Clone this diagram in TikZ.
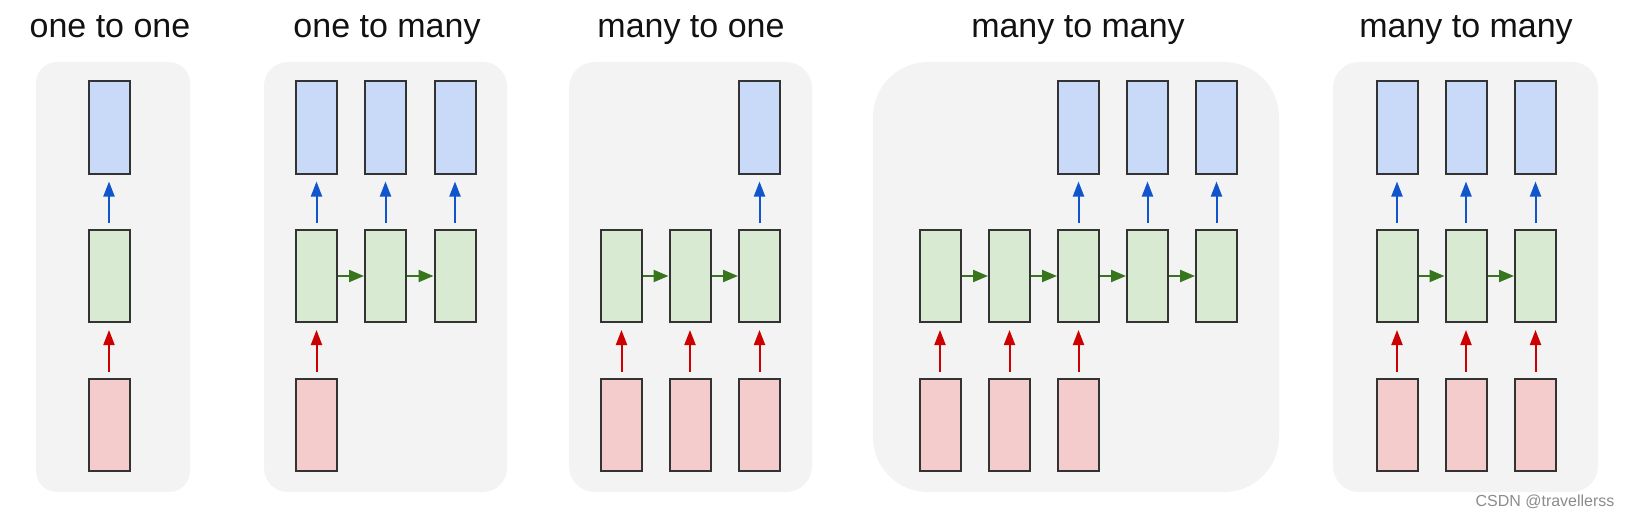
\documentclass[tikz,border=0pt]{standalone}
\usepackage{fontspec}
\setmainfont{Liberation Sans}
\usetikzlibrary{arrows.meta}
\definecolor{panelgray}{HTML}{F3F3F3}
\definecolor{outfill}{HTML}{C9DAF8}
\definecolor{hidfill}{HTML}{D9EAD3}
\definecolor{infill}{HTML}{F4CCCC}
\definecolor{outarrow}{HTML}{1155CC}
\definecolor{inarrow}{HTML}{CC0000}
\definecolor{hidarrow}{HTML}{38761D}
\definecolor{boxline}{HTML}{333333}

\begin{document}
\begin{tikzpicture}[x=1pt, y=-1pt,
  panel/.style={fill=panelgray},
  cell/.style={rectangle, draw=boxline, line width=2pt, inner sep=0pt,
               minimum width=41pt, minimum height=92pt},
  outcell/.style={cell, fill=outfill},
  hidcell/.style={cell, fill=hidfill},
  incell/.style={cell, fill=infill},
  vert/.style={-{Triangle[length=15pt,width=11pt]}, line width=2pt,
               shorten <=6pt, shorten >=7pt},
  outarr/.style={vert, outarrow},
  inarr/.style={vert, inarrow},
  recarr/.style={-{Triangle[length=15pt,width=12pt]}, line width=2.2pt, hidarrow},
  title/.style={font=\fontsize{34}{40}\selectfont, anchor=base, text=black!93}
]
\useasboundingbox (0,0) rectangle (1629,516);
\fill[white] (0,0) rectangle (1629,516);

% grey panels
\fill[panel, rounded corners=21pt] (36,62)   rectangle (190,492);
\fill[panel, rounded corners=24pt] (264,62)  rectangle (507,492);
\fill[panel, rounded corners=26pt] (569,62)  rectangle (812,492);
\fill[panel, rounded corners=55pt] (873,62)  rectangle (1279,492);
\fill[panel, rounded corners=26pt] (1333,62) rectangle (1598,492);

\node[title] (ta) at (110,38)  {one to one};
\node[title] (tb) at (387,38)  {one to many};
\node[title] (tc) at (691,38)  {many to one};
\node[title] (td) at (1078,38) {many to many};
\node[title] (te) at (1466,38) {many to many};

% one to one
\node[outcell] (ao) at (109,127.5) {};
\node[hidcell] (ah) at (109,276)   {};
\node[incell]  (ai) at (109,425)   {};

% one to many
\node[outcell] (bo1) at (316.5,127.5) {};
\node[outcell] (bo2) at (385.5,127.5) {};
\node[outcell] (bo3) at (455,127.5)   {};
\node[hidcell] (bh1) at (316.5,276)   {};
\node[hidcell] (bh2) at (385.5,276)   {};
\node[hidcell] (bh3) at (455,276)     {};
\node[incell]  (bi1) at (316.5,425)   {};

% many to one
\node[outcell] (co3) at (759.5,127.5) {};
\node[hidcell] (ch1) at (621.5,276)   {};
\node[hidcell] (ch2) at (690,276)     {};
\node[hidcell] (ch3) at (759.5,276)   {};
\node[incell]  (ci1) at (621.5,425)   {};
\node[incell]  (ci2) at (690,425)     {};
\node[incell]  (ci3) at (759.5,425)   {};

% many to many (delayed)
\node[outcell] (do3) at (1078.5,127.5) {};
\node[outcell] (do4) at (1147.5,127.5) {};
\node[outcell] (do5) at (1216.5,127.5) {};
\node[hidcell] (dh1) at (940,276)      {};
\node[hidcell] (dh2) at (1009.5,276)   {};
\node[hidcell] (dh3) at (1078.5,276)   {};
\node[hidcell] (dh4) at (1147.5,276)   {};
\node[hidcell] (dh5) at (1216.5,276)   {};
\node[incell]  (di1) at (940,425)      {};
\node[incell]  (di2) at (1009.5,425)   {};
\node[incell]  (di3) at (1078.5,425)   {};

% many to many (synced)
\node[outcell] (eo1) at (1397,127.5)   {};
\node[outcell] (eo2) at (1466,127.5)   {};
\node[outcell] (eo3) at (1535.5,127.5) {};
\node[hidcell] (eh1) at (1397,276)     {};
\node[hidcell] (eh2) at (1466,276)     {};
\node[hidcell] (eh3) at (1535.5,276)   {};
\node[incell]  (ei1) at (1397,425)     {};
\node[incell]  (ei2) at (1466,425)     {};
\node[incell]  (ei3) at (1535.5,425)   {};

\node[font=\fontsize{16}{18}\selectfont, text=black!45, anchor=base] (mark)
  at (1545,506) {CSDN @travellerss};

% arrows
\draw[inarr]  (ai) -- (ah);
\draw[outarr] (ah) -- (ao);

\draw[inarr]  (bi1) -- (bh1);
\draw[recarr] (bh1) -- (bh2);
\draw[recarr] (bh2) -- (bh3);
\draw[outarr] (bh1) -- (bo1);
\draw[outarr] (bh2) -- (bo2);
\draw[outarr] (bh3) -- (bo3);

\draw[inarr]  (ci1) -- (ch1);
\draw[inarr]  (ci2) -- (ch2);
\draw[inarr]  (ci3) -- (ch3);
\draw[recarr] (ch1) -- (ch2);
\draw[recarr] (ch2) -- (ch3);
\draw[outarr] (ch3) -- (co3);

\draw[inarr]  (di1) -- (dh1);
\draw[inarr]  (di2) -- (dh2);
\draw[inarr]  (di3) -- (dh3);
\draw[recarr] (dh1) -- (dh2);
\draw[recarr] (dh2) -- (dh3);
\draw[recarr] (dh3) -- (dh4);
\draw[recarr] (dh4) -- (dh5);
\draw[outarr] (dh3) -- (do3);
\draw[outarr] (dh4) -- (do4);
\draw[outarr] (dh5) -- (do5);

\draw[inarr]  (ei1) -- (eh1);
\draw[inarr]  (ei2) -- (eh2);
\draw[inarr]  (ei3) -- (eh3);
\draw[recarr] (eh1) -- (eh2);
\draw[recarr] (eh2) -- (eh3);
\draw[outarr] (eh1) -- (eo1);
\draw[outarr] (eh2) -- (eo2);
\draw[outarr] (eh3) -- (eo3);

\end{tikzpicture}
\end{document}
